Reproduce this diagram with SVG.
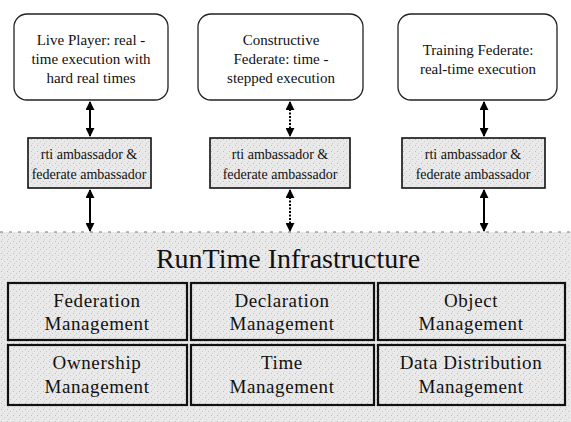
<svg xmlns="http://www.w3.org/2000/svg" width="571" height="422" viewBox="0 0 571 422">
  <defs>
    <marker id="ah" viewBox="0 0 10 10" refX="9" refY="5" markerWidth="4.5" markerHeight="4.5" orient="auto-start-reverse">
      <path d="M0,0 L10,5 L0,10 z" fill="#000"/>
    </marker>
    <pattern id="grain" width="6" height="6" patternUnits="userSpaceOnUse">
      <rect width="6" height="6" fill="#e9e9e9"/>
      <rect x="1" y="1" width="1" height="1" fill="#bdbdbd"/>
      <rect x="4" y="3" width="1" height="1" fill="#c8c8c8"/>
      <rect x="2" y="5" width="1" height="1" fill="#d0d0d0"/>
    </pattern>
  </defs>
  <style>
    .fed { fill: #fff; stroke: #222; stroke-width: 1.3; }
    .amb { fill: url(#grain); stroke: #111; stroke-width: 1.6; }
    .svc { fill: url(#grain); stroke: #111; stroke-width: 2.2; }
    text { font-family: 'Liberation Serif', 'Times New Roman', Tinos, 'Noto Serif', 'DejaVu Serif', 'Nimbus Roman', FreeSerif, serif; fill: #111; text-anchor: middle; }
    .t15 { font-size: 15px; }
    .t14 { font-size: 14px; }
    .t19 { font-size: 19px; letter-spacing: 0.6px; }
    .title { font-size: 28px; }
    .link { stroke: #000; stroke-width: 2; fill: none; marker-start: url(#ah); marker-end: url(#ah); }
    .dot { stroke-dasharray: 2 1.5; }
  </style>

  <rect width="571" height="422" fill="#fff"/>

  <!-- RTI layer background -->
  <g id="rti">
    <rect x="0" y="232" width="571" height="190" fill="url(#grain)"/>
    <line x1="0" y1="232" x2="571" y2="232" stroke="#777" stroke-width="1" stroke-dasharray="3 6"/>
    <text class="title" x="288" y="268">RunTime Infrastructure</text>
  </g>

  <!-- federates -->
  <g id="live-player">
    <rect class="fed" x="14" y="14" width="154" height="86" rx="13"/>
    <text class="t15" x="91" y="45">Live Player: real -</text>
    <text class="t15" x="91" y="64">time execution with</text>
    <text class="t15" x="91" y="83">hard real times</text>
  </g>
  <g id="constructive">
    <rect class="fed" x="198" y="14" width="165" height="86" rx="13"/>
    <text class="t15" x="281" y="45">Constructive</text>
    <text class="t15" x="281" y="64">Federate: time -</text>
    <text class="t15" x="281" y="83">stepped execution</text>
  </g>
  <g id="training">
    <rect class="fed" x="398" y="14" width="159" height="86" rx="13"/>
    <text class="t15" x="478" y="55">Training Federate:</text>
    <text class="t15" x="478" y="74">real-time execution</text>
  </g>

  <!-- ambassadors -->
  <g id="amb-1">
    <rect class="amb" x="28" y="138" width="123" height="50"/>
    <text class="t14" x="89" y="159">rti ambassador &amp;</text>
    <text class="t14" x="89" y="179">federate ambassador</text>
  </g>
  <g id="amb-2">
    <rect class="amb" x="210" y="138" width="140" height="50"/>
    <text class="t14" x="280" y="159">rti ambassador &amp;</text>
    <text class="t14" x="280" y="179">federate ambassador</text>
  </g>
  <g id="amb-3">
    <rect class="amb" x="402" y="138" width="143" height="50"/>
    <text class="t14" x="473" y="159">rti ambassador &amp;</text>
    <text class="t14" x="473" y="179">federate ambassador</text>
  </g>

  <!-- RTI services -->
  <g id="federation-mgmt">
    <rect class="svc" x="8" y="283" width="179" height="57"/>
    <text class="t19" x="97" y="307">Federation</text>
    <text class="t19" x="97" y="330">Management</text>
  </g>
  <g id="declaration-mgmt">
    <rect class="svc" x="191" y="283" width="183" height="57"/>
    <text class="t19" x="282" y="307">Declaration</text>
    <text class="t19" x="282" y="330">Management</text>
  </g>
  <g id="object-mgmt">
    <rect class="svc" x="378" y="283" width="187" height="57"/>
    <text class="t19" x="471" y="307">Object</text>
    <text class="t19" x="471" y="330">Management</text>
  </g>
  <g id="ownership-mgmt">
    <rect class="svc" x="8" y="345" width="179" height="60"/>
    <text class="t19" x="97" y="369">Ownership</text>
    <text class="t19" x="97" y="393">Management</text>
  </g>
  <g id="time-mgmt">
    <rect class="svc" x="191" y="345" width="183" height="60"/>
    <text class="t19" x="282" y="369">Time</text>
    <text class="t19" x="282" y="393">Management</text>
  </g>
  <g id="ddm">
    <rect class="svc" x="378" y="345" width="187" height="60"/>
    <text class="t19" x="471" y="369">Data Distribution</text>
    <text class="t19" x="471" y="393">Management</text>
  </g>

  <!-- connectors -->
  <g id="connectors">
    <line class="link" x1="90" y1="102" x2="90" y2="136"/>
    <line class="link dot" x1="290" y1="102" x2="290" y2="136"/>
    <line class="link" x1="484" y1="102" x2="484" y2="136"/>
    <line class="link" x1="90" y1="190" x2="90" y2="231"/>
    <line class="link dot" x1="290" y1="190" x2="290" y2="231"/>
    <line class="link" x1="484" y1="190" x2="484" y2="231"/>
  </g>
</svg>
